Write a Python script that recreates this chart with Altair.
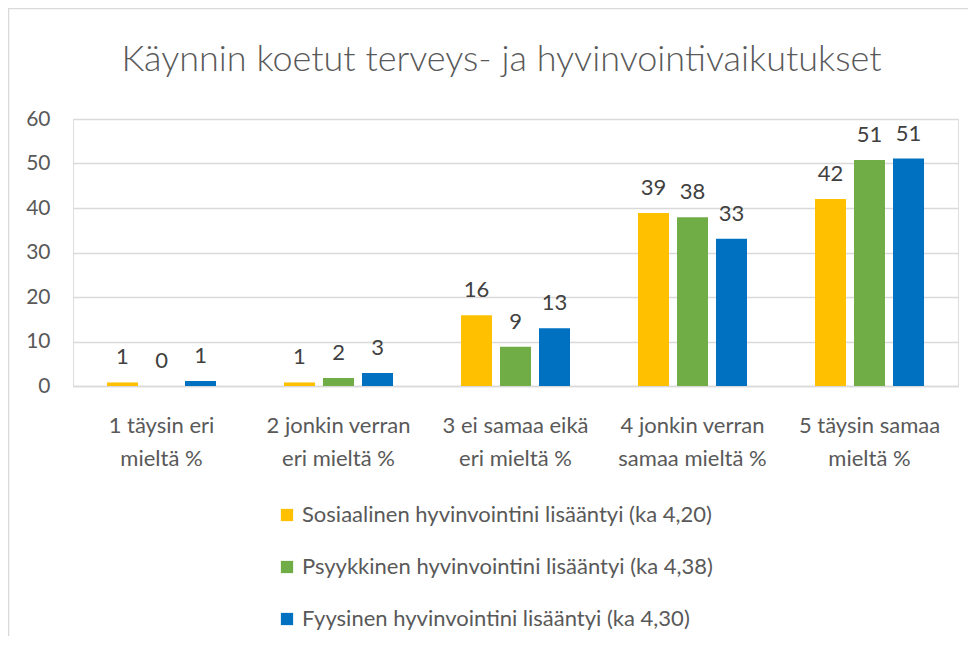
import altair as alt
import pandas as pd

categories = ["1 täysin eri|mieltä %", "2 jonkin verran|eri mieltä %", "3 ei samaa eikä|eri mieltä %",
              "4 jonkin verran|samaa mieltä %", "5 täysin samaa|mieltä %"]
series = ["Sosiaalinen hyvinvointini lisääntyi (ka 4,20)",
          "Psyykkinen hyvinvointini lisääntyi (ka 4,38)",
          "Fyysinen hyvinvointini lisääntyi (ka 4,30)"]
sosiaalinen = [0.8, 0.8, 15.9, 38.9, 42.0]
psyykkinen = [0.0, 1.8, 8.8, 37.9, 50.8]
fyysinen = [1.1, 2.9, 13.0, 33.1, 51.1]
colors = ["#FFC000", "#70AD47", "#0070C0"]

rows = []
for s, vals in zip(series, [sosiaalinen, psyykkinen, fyysinen]):
    for c, v in zip(categories, vals):
        rows.append({"kategoria": c, "sarja": s, "arvo": v})
df = pd.DataFrame(rows)

FONT = "Lato"
GREY = "#595959"

x = alt.X("kategoria:N", sort=categories, title=None,
          scale=alt.Scale(paddingInner=0.384, paddingOuter=0.192),
          axis=alt.Axis(labelExpr="split(datum.label, '|')", labelAngle=0, labelFontSize=22,
                        labelColor=GREY, labelFont=FONT, labelPadding=39, labelLineHeight=33,
                        ticks=False, domain=True, domainColor="#d9d9d9", domainWidth=1.5,
                        grid=False, labelBaseline="middle"))
xo = alt.XOffset("sarja:N", sort=series, scale=alt.Scale(paddingInner=0.205, paddingOuter=0))
y = alt.Y("arvo:Q", title=None,
          scale=alt.Scale(domain=[0, 60]),
          axis=alt.Axis(values=[0, 10, 20, 30, 40, 50, 60], labelFontSize=21, labelColor=GREY,
                        labelFont=FONT, labelPadding=23, ticks=False, domain=False,
                        gridColor="#d9d9d9", gridWidth=1.5))
color = alt.Color("sarja:N", sort=series,
                  scale=alt.Scale(domain=series, range=colors),
                  legend=alt.Legend(title=None, orient="none", legendX=203, legendY=385,
                                    direction="vertical", symbolType="square", symbolSize=150,
                                    symbolStrokeWidth=0, labelFontSize=22, labelFont=FONT,
                                    labelColor=GREY, rowPadding=30, labelOffset=4,
                                    labelLimit=600))

bars = alt.Chart(df).mark_bar().encode(x=x, xOffset=xo, y=y, color=color)
labels = alt.Chart(df).mark_text(baseline="bottom", dy=-13, fontSize=22, font=FONT,
                                 color="#404040").encode(
    x=alt.X("kategoria:N", sort=categories), xOffset=alt.XOffset("sarja:N", sort=series),
    y="arvo:Q", text=alt.Text("arvo:Q", format=".0f"))

frame = alt.Chart(pd.DataFrame({"a": [0]})).mark_rect(
    fill=None, stroke="#d9d9d9", strokeWidth=1.5).encode(
    x=alt.value(-64.5), y=alt.value(-110.5), x2=alt.value(2000), y2=alt.value(2000))

chart = alt.layer(frame, bars, labels).properties(
    width=885, height=267,
    title=alt.TitleParams("Käynnin koetut terveys- ja hyvinvointivaikutukset",
                          fontSize=36, font=FONT, fontWeight=300, color=GREY,
                          anchor="middle", frame="group", offset=-71, dx=-14),
    autosize=alt.AutoSizeParams(type="none"),
    padding={"left": 65, "top": 111, "right": 10, "bottom": 250},
).configure_view(stroke=None).configure(background="white")

chart.save("out.html", embed_options={"renderer": "svg", "actions": False})
